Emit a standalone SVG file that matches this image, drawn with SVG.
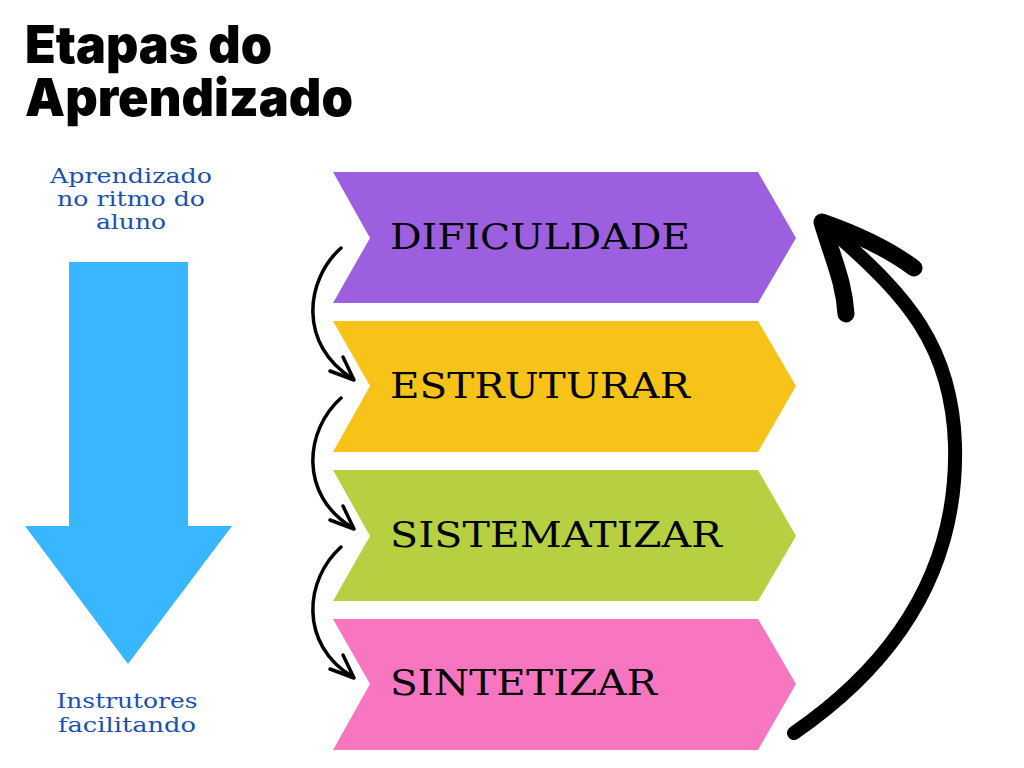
<svg xmlns="http://www.w3.org/2000/svg" width="1024" height="768" viewBox="0 0 1024 768">
<style>
.title{font-family:Inter,"Open Sans","Liberation Sans",sans-serif;font-weight:900;font-size:52px;fill:#000}
.side{font-family:"DejaVu Serif","Liberation Serif",serif;font-size:20px;fill:#1A50B2;text-anchor:middle}
.lbl{font-family:"DejaVu Serif","Liberation Serif",serif;font-size:36px;fill:#000}
.small{fill:none;stroke:#000;stroke-width:3.5;stroke-linecap:round;stroke-linejoin:round}
.big{fill:none;stroke:#000;stroke-linecap:round;stroke-linejoin:round}
</style>
<rect width="1024" height="768" fill="#fff"/>
<g id="title">
<text class="title"><tspan x="25" y="63" textLength="247" lengthAdjust="spacingAndGlyphs">Etapas do</tspan><tspan x="25" y="116" textLength="328" lengthAdjust="spacingAndGlyphs">Aprendizado</tspan></text>
</g>
<g id="side-arrow">
<text class="side"><tspan x="131" y="183" textLength="162" lengthAdjust="spacingAndGlyphs">Aprendizado</tspan><tspan x="131" y="206" textLength="148" lengthAdjust="spacingAndGlyphs">no ritmo do</tspan><tspan x="131" y="229" textLength="70" lengthAdjust="spacingAndGlyphs">aluno</tspan></text>
<polygon points="69,262 188,262 188,526 232,526 128,664 25,526 69,526" fill="#38B6FF"/>
<text class="side"><tspan x="127" y="708" textLength="141" lengthAdjust="spacingAndGlyphs">Instrutores</tspan><tspan x="127" y="732" textLength="138" lengthAdjust="spacingAndGlyphs">facilitando</tspan></text>
</g>
<g id="dificuldade">
<polygon points="333,172 758,172 796,238 758,303 333,303 370,238" fill="#9B5FE0"/>
<text class="lbl" x="390" y="249" textLength="300" lengthAdjust="spacingAndGlyphs">DIFICULDADE</text>
</g>
<g id="estruturar">
<polygon points="333,321 758,321 796,386 758,452 333,452 370,386" fill="#F8C318"/>
<text class="lbl" x="390" y="398" textLength="300" lengthAdjust="spacingAndGlyphs">ESTRUTURAR</text>
</g>
<g id="sistematizar">
<polygon points="333,470 758,470 796,536 758,601 333,601 370,536" fill="#B7D042"/>
<text class="lbl" x="390" y="547" textLength="332" lengthAdjust="spacingAndGlyphs">SISTEMATIZAR</text>
</g>
<g id="sintetizar">
<polygon points="333,619 758,619 796,684 758,750 333,750 370,684" fill="#F875C0"/>
<text class="lbl" x="390" y="695" textLength="267" lengthAdjust="spacingAndGlyphs">SINTETIZAR</text>
</g>
<g id="connectors">
<path class="small" d="M341 248 C305 280 298 345 353 379"/>
<path class="small" d="M343 357 L354 380 L330 371"/>
<path class="small" d="M341 398 C305 430 298 495 353 528"/>
<path class="small" d="M343 506 L354 529 L330 520"/>
<path class="small" d="M341 547 C305 579 298 644 353 677"/>
<path class="small" d="M343 655 L354 678 L330 669"/>
<path class="big" stroke-width="14" d="M794 733 C900 660 958 565 955 445 C952 345 905 295 838 236"/>
<path class="big" stroke-width="17" d="M914 268 C890 250 862 236 822 222 C834 262 844 282 846 314"/>
</g>
</svg>
